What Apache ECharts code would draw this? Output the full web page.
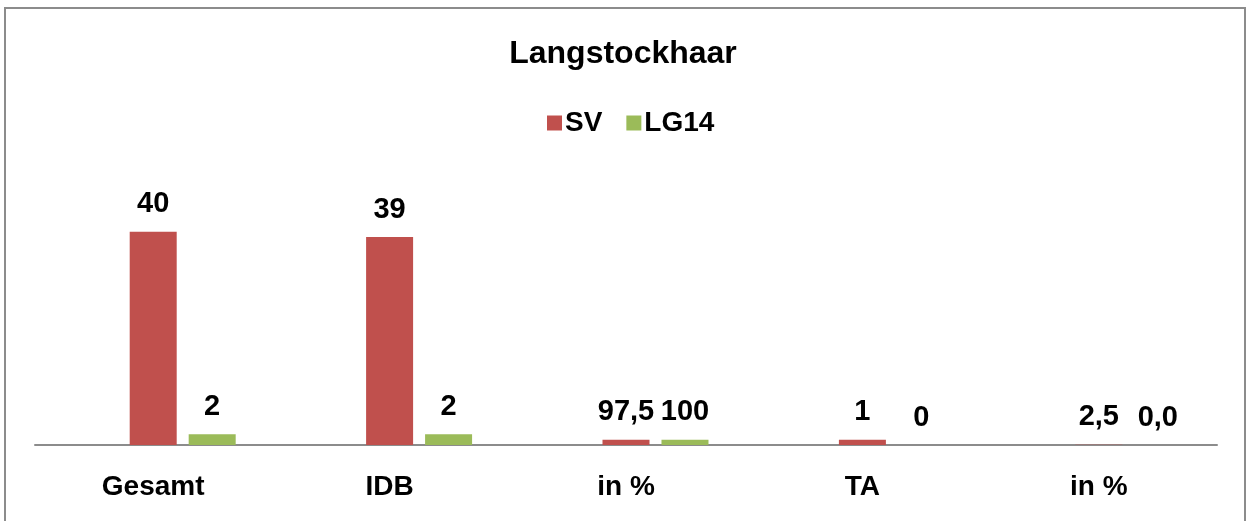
<!DOCTYPE html>
<html>
<head>
<meta charset="utf-8">
<script src="https://cdn.jsdelivr.net/npm/echarts@6/dist/echarts.min.js"></script>
<style>
  html, body { margin: 0; padding: 0; background: #fff; }
  #chart { width: 1246px; height: 521px; }
</style>
</head>
<body>
<div id="chart"></div>
<script>
// categories on the x axis
var categories = ['Gesamt', 'IDB', 'in %', 'TA', 'in %']
// plotted values (the percent rows are stored as fractions, like the sheet did)
var svValues = [40, 39, 0.975, 1, 0.025]
var lgValues = [2, 2, 1, 0, 0]
// text shown on top of the bars
var svLabels = ['40', '39', '97,5', '1', '2,5']
var lgLabels = ['2', '2', '100', '0', '0,0']
// empty first series, keeps SV centred on the category like in the original
var emptyValues = ['-', '-', '-', '-', '-']

var font = 'Liberation Sans'

function labelFrom(texts) {
  return {
    show: true,
    position: 'top',
    distance: 13,
    color: '#000',
    fontFamily: font,
    fontWeight: 'bold',
    fontSize: 29,
    formatter: function (p) { return texts[p.dataIndex] }
  }
}

var chart = echarts.init(document.getElementById('chart'))
chart.setOption({
  animation: false,
  title: {
    text: 'Langstockhaar',
    left: 'center',
    top: 33,
    textStyle: {
      color: '#000',
      fontFamily: font,
      fontWeight: 'bold',
      fontSize: 32
    }
  },
  legend: {
    data: ['SV', 'LG14'],
    left: 542,
    top: 104,
    icon: 'rect',
    itemWidth: 15,
    itemHeight: 15,
    itemGap: 24,
    textStyle: {
      color: '#000',
      fontFamily: font,
      fontWeight: 'bold',
      fontSize: 28,
      padding: [0, 0, 0, -2]
    }
  },
  grid: {
    left: 35,
    right: 29,
    top: 205,
    bottom: 76
  },
  xAxis: {
    type: 'category',
    data: categories,
    axisLine: { lineStyle: { color: '#8c8c8c', width: 2 } },
    axisTick: { show: false },
    axisLabel: {
      margin: 28,
      color: '#000',
      fontFamily: font,
      fontWeight: 'bold',
      fontSize: 28
    }
  },
  yAxis: {
    type: 'value',
    min: 0,
    max: 45,
    show: false,
    splitLine: { show: false }
  },
  series: [
    {
      name: 'leer',
      type: 'bar',
      barWidth: 47,
      data: emptyValues
    },
    {
      name: 'SV',
      type: 'bar',
      barWidth: 47,
      itemStyle: { color: '#c0504d' },
      label: labelFrom(svLabels),
      data: svValues
    },
    {
      name: 'LG14',
      type: 'bar',
      barWidth: 47,
      barGap: '25.5%',
      itemStyle: { color: '#9bbb59' },
      label: labelFrom(lgLabels),
      data: lgValues
    }
  ],
  graphic: [
    {
      type: 'rect',
      shape: { x: 5, y: 8, width: 1240, height: 530 },
      style: { fill: 'none', stroke: '#8c8c8c', lineWidth: 2 },
      silent: true
    }
  ]
})
</script>
</body>
</html>
